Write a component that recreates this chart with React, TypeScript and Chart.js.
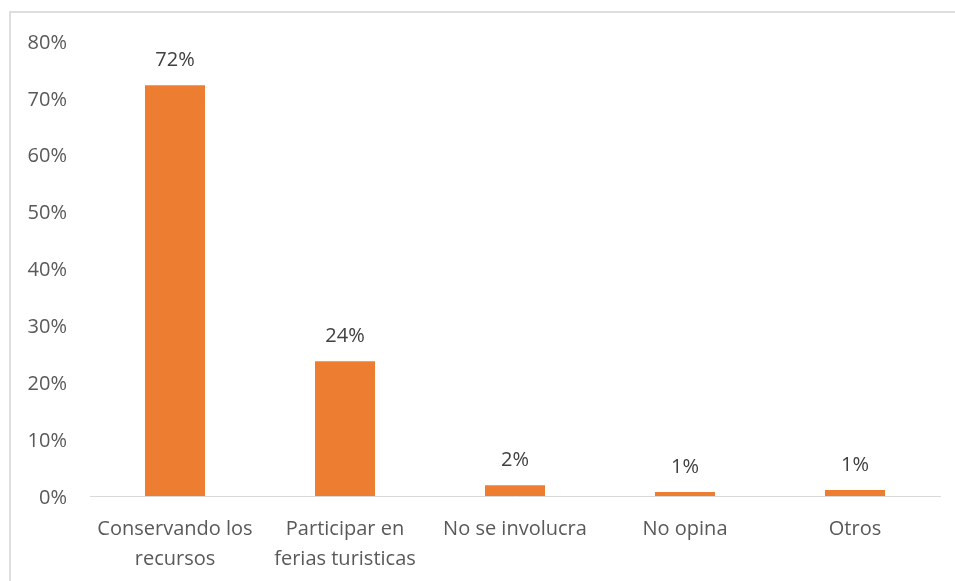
import React, { useEffect, useRef } from "react";
import { Chart, registerables } from "chart.js";

Chart.register(...registerables);

const categories: string[][] = [
  ["Conservando los", "recursos"],
  ["Participar en", "ferias turisticas"],
  ["No se involucra"],
  ["No opina"],
  ["Otros"],
];
const values: number[] = [72.2, 23.7, 1.9, 0.7, 1.05];
const valueLabels: string[] = ["72%", "24%", "2%", "1%", "1%"];
const yTicks: number[] = [0, 10, 20, 30, 40, 50, 60, 70, 80];

const FONT = "'Open Sans', sans-serif";

const dataLabelPlugin = {
  id: "dataLabels",
  afterDatasetsDraw(chart: any) {
    const ctx = chart.ctx;
    const meta = chart.getDatasetMeta(0);
    ctx.save();
    ctx.font = `20px ${FONT}`;
    ctx.fillStyle = "#404040";
    ctx.textAlign = "center";
    ctx.textBaseline = "middle";
    meta.data.forEach((bar: any, i: number) => {
      ctx.fillText(valueLabels[i], bar.x, bar.y - 25);
    });
    ctx.restore();
  },
};

export default function App() {
  const ref = useRef<HTMLCanvasElement | null>(null);
  useEffect(() => {
    if (!ref.current) return;
    const chart = new Chart(ref.current, {
      type: "bar",
      data: {
        labels: categories,
        datasets: [
          {
            data: values,
            backgroundColor: "#ED7D31",
            barPercentage: 0.353,
            categoryPercentage: 1,
          },
        ],
      },
      options: {
        animation: false,
        responsive: false,
        maintainAspectRatio: false,
        layout: { padding: { top: 41, right: 15, left: 0, bottom: 0 } },
        plugins: { legend: { display: false }, tooltip: { enabled: false } },
        scales: {
          x: {
            grid: { display: false, drawTicks: false },
            border: { display: true, color: "#d9d9d9", width: 1 },
            ticks: {
              color: "#595959",
              font: { family: FONT, size: 20, lineHeight: "30px" } as any,
              padding: 18,
              maxRotation: 0,
              autoSkip: false,
            },
            afterFit: (s: any) => {
              s.height = 85;
            },
          },
          y: {
            min: 0,
            max: 80,
            afterBuildTicks: (s: any) => {
              s.ticks = yTicks.map((v) => ({ value: v }));
            },
            grid: { display: false, drawTicks: false },
            border: { display: false },
            ticks: {
              color: "#595959",
              font: { family: FONT, size: 20 },
              padding: 23,
              labelOffset: 2,
              callback: (v: any) => `${v}%`,
            },
            afterFit: (s: any) => {
              s.width = 90;
            },
          },
        },
      },
      plugins: [dataLabelPlugin],
    });
    return () => chart.destroy();
  }, []);

  return (
    <div style={{ position: "absolute", left: 0, top: 0, width: 955, height: 581, background: "#fff", overflow: "hidden" }}>
      <div
        style={{
          position: "absolute",
          left: 9,
          top: 11,
          width: 960,
          height: 600,
          borderTop: "2px solid #dedede",
          borderLeft: "2px solid #dedede",
          boxSizing: "border-box",
        }}
      />
      <canvas ref={ref} width={955} height={581} style={{ position: "absolute", left: 0, top: 0 }} />
    </div>
  );
}
